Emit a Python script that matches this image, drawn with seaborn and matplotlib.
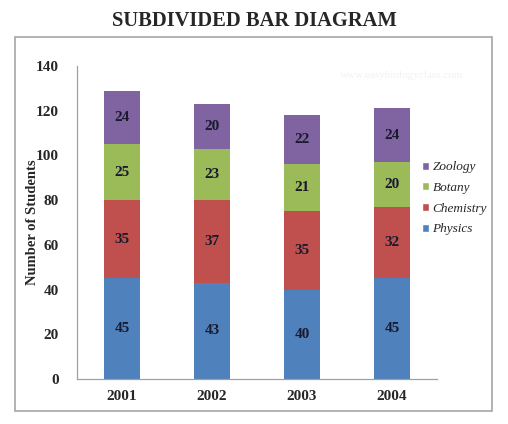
import numpy as np
import pandas as pd
import matplotlib
matplotlib.use('Agg')
import matplotlib.pyplot as plt
import seaborn as sns
from matplotlib.patches import Rectangle, Patch

years = ['2001', '2002', '2003', '2004']
physics = [45, 43, 40, 45]
chemistry = [35, 37, 35, 32]
botany = [25, 23, 21, 20]
zoology = [24, 20, 22, 24]

subjects = ['Physics', 'Chemistry', 'Botany', 'Zoology']
colors = ['#4F81BD', '#C0504D', '#9BBB59', '#8064A2']

sns.set_style('white')
plt.rcParams['font.family'] = ['Liberation Serif', 'DejaVu Serif']

layers = np.array([physics, chemistry, botany, zoology])
tops = layers.cumsum(axis=0)

fig = plt.figure(figsize=(5.08, 4.24), dpi=100)
ax = fig.add_axes([0.1516, 0.1061, 0.7087, 0.7382])

# draw cumulative totals from the top layer down so each overlaps the next
for i in range(3, -1, -1):
    df = pd.DataFrame({'year': years, 'total': tops[i]})
    sns.barplot(data=df, x='year', y='total', color=colors[i], width=0.4,
                saturation=1, ax=ax, linewidth=0)

for i in range(4):
    for j, yr in enumerate(years):
        mid = tops[i][j] - layers[i][j] / 2
        ax.text(j, mid, str(layers[i][j]), ha='center', va='center',
                fontsize=11, fontweight='bold', color='#1a1a2e')

ax.set_xlim(-0.5, 3.5)
ax.set_ylim(0, 140)
ax.set_yticks(range(0, 141, 20))
ax.set_xticks([-0.5, 0.5, 1.5, 2.5, 3.5], minor=False)
ax.set_xticklabels([])
ax.set_xticks(range(4), minor=True)
ax.set_xticklabels(years, minor=True)
ax.tick_params(axis='x', which='minor', length=0, pad=8, labelsize=11)
ax.tick_params(axis='x', which='major', length=5, direction='out', color='#a0a0a0')
ax.tick_params(axis='y', length=5, direction='out', color='#a0a0a0', labelsize=11, pad=8)
for lbl in ax.get_xticklabels(minor=True) + ax.get_yticklabels():
    lbl.set_fontweight('bold')

ax.set_xlabel('')
ax.set_ylabel('Number of Students', fontsize=10.5, fontweight='bold', labelpad=-2)
sns.despine(ax=ax)
for s in ['left', 'bottom']:
    ax.spines[s].set_color('#a0a0a0')
    ax.spines[s].set_linewidth(0.9)

handles = [Patch(facecolor=colors[i], label=subjects[i]) for i in range(3, -1, -1)]
fig.legend(handles=handles, loc='center left', bbox_to_anchor=(0.807, 0.532),
           frameon=False, prop={'style': 'italic', 'size': 9.5},
           handlelength=0.55, handleheight=0.55, handletextpad=0.25, labelspacing=0.66)

fig.text(0.5, 0.951, 'SUBDIVIDED BAR DIAGRAM', ha='center', va='center',
         fontsize=14.8, fontweight='bold')
fig.text(0.79, 0.822, 'www.easybiologyclass.com', ha='center', va='center',
         fontsize=8, color='#f2f2f2')

fig.patches.append(Rectangle((15 / 508, 13 / 424), 477 / 508, 374 / 424,
                             transform=fig.transFigure, fill=False,
                             edgecolor='#a6a6a6', linewidth=1.2))

fig.savefig('out.png', dpi=100)
